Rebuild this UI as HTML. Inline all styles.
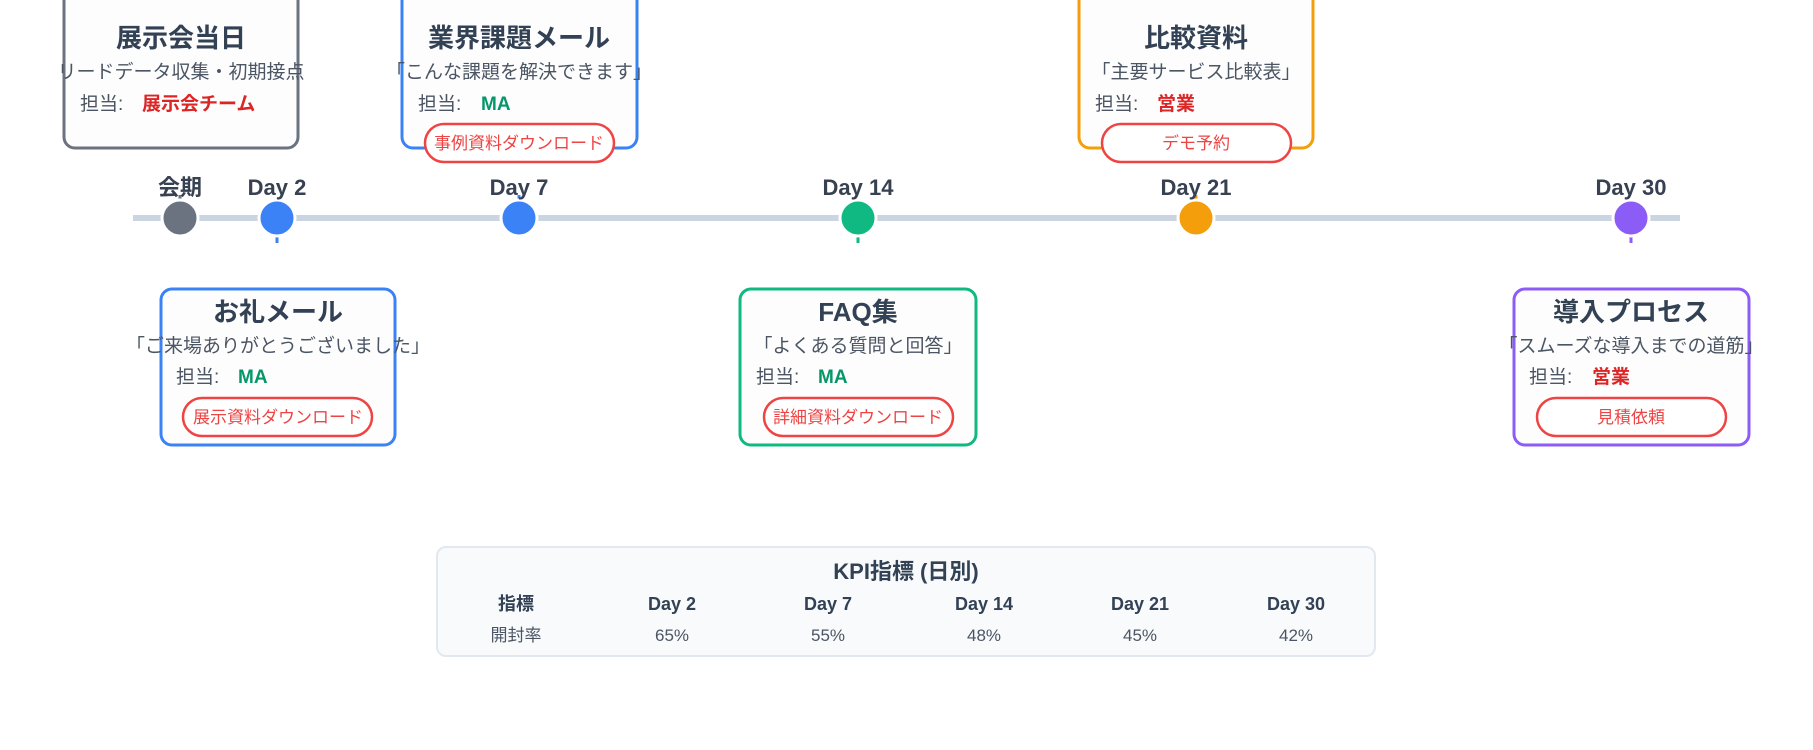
<!DOCTYPE html>
<html><head><meta charset="utf-8"><style>
html,body{margin:0;padding:0;background:#fff;width:1813px;height:750px;overflow:hidden}
text{font-family:"Liberation Sans","Noto Sans CJK JP",sans-serif}
</style></head><body>
<svg width="1813" height="750" viewBox="0 0 1813 750" xmlns="http://www.w3.org/2000/svg">
<line x1="133" y1="218" x2="1680" y2="218" stroke="#cbd5e1" stroke-width="6"/>
<g stroke-width="3">
<line x1="277" y1="218" x2="277" y2="243" stroke="#3b82f6"/>
<line x1="858" y1="218" x2="858" y2="243" stroke="#10b981"/>
<line x1="1631" y1="218" x2="1631" y2="243" stroke="#8b5cf6"/>
<line x1="180" y1="218" x2="180" y2="195" stroke="#6b7280"/>
<line x1="519" y1="218" x2="519" y2="195" stroke="#3b82f6"/>
<line x1="1196" y1="218" x2="1196" y2="195" stroke="#f59e0b"/>
</g>
<g stroke="#fff" stroke-width="3">
<circle cx="180" cy="218" r="18" fill="#6b7280"/>
<circle cx="277" cy="218" r="18" fill="#3b82f6"/>
<circle cx="519" cy="218" r="18" fill="#3b82f6"/>
<circle cx="858" cy="218" r="18" fill="#10b981"/>
<circle cx="1196" cy="218" r="18" fill="#f59e0b"/>
<circle cx="1631" cy="218" r="18" fill="#8b5cf6"/>
</g>
<g font-size="22" font-weight="bold" fill="#374151" text-anchor="middle">
<text x="180" y="195">会期</text><text x="277" y="195">Day 2</text><text x="519" y="195">Day 7</text>
<text x="858" y="195">Day 14</text><text x="1196" y="195">Day 21</text><text x="1631" y="195">Day 30</text>
</g>
<g fill="#fdfdfd" stroke-width="3">
<rect x="64" y="-20" width="234" height="168" rx="11" stroke="#6b7280"/>
<rect x="402" y="-20" width="235" height="168" rx="11" stroke="#3b82f6"/>
<rect x="1079" y="-20" width="234" height="168" rx="11" stroke="#f59e0b"/>
<rect x="161" y="289" width="234" height="156" rx="11" stroke="#3b82f6"/>
<rect x="740" y="289" width="236" height="156" rx="11" stroke="#10b981"/>
<rect x="1514" y="289" width="235" height="156" rx="11" stroke="#8b5cf6"/>
</g>
<g font-size="26" font-weight="bold" fill="#334155" text-anchor="middle">
<text x="181" y="47">展示会当日</text><text x="519" y="47">業界課題メール</text><text x="1196" y="47">比較資料</text>
<text x="278" y="321">お礼メール</text><text x="858" y="321">FAQ集</text><text x="1631" y="321">導入プロセス</text>
</g>
<g font-size="19" fill="#4b5563" text-anchor="middle">
<text x="181" y="78">リードデータ収集・初期接点</text><text x="519" y="78">「こんな課題を解決できます」</text><text x="1196" y="78">「主要サービス比較表」</text>
<text x="278" y="352">「ご来場ありがとうございました」</text><text x="858" y="352">「よくある質問と回答」</text><text x="1631" y="352">「スムーズな導入までの道筋」</text>
</g>
<g font-size="19" fill="#4b5563">
<text x="80" y="110">担当:</text><text x="418" y="110">担当:</text><text x="1095" y="110">担当:</text>
<text x="176" y="383">担当:</text><text x="756" y="383">担当:</text><text x="1529" y="383">担当:</text>
</g>
<g font-size="19" font-weight="bold">
<text x="142" y="110" fill="#dc2626">展示会チーム</text><text x="481" y="110" fill="#059669">MA</text><text x="1157" y="110" fill="#dc2626">営業</text>
<text x="238" y="383" fill="#059669">MA</text><text x="818" y="383" fill="#059669">MA</text><text x="1592" y="383" fill="#dc2626">営業</text>
</g>
<g fill="#fff" stroke="#ef4444" stroke-width="2.5">
<rect x="425" y="124" width="189" height="38" rx="19"/>
<rect x="1102" y="124" width="189" height="38" rx="19"/>
<rect x="183" y="398" width="189" height="38" rx="19"/>
<rect x="764" y="398" width="189" height="38" rx="19"/>
<rect x="1537" y="398" width="189" height="38" rx="19"/>
</g>
<g font-size="17" fill="#ef4444" text-anchor="middle">
<text x="519" y="149">事例資料ダウンロード</text><text x="1196" y="149">デモ予約</text>
<text x="278" y="423">展示資料ダウンロード</text><text x="858" y="423">詳細資料ダウンロード</text><text x="1631" y="423">見積依頼</text>
</g>
<rect x="437" y="547" width="938" height="109" rx="9" fill="#f8fafc" stroke="#e2e8f0" stroke-width="2"/>
<text x="906" y="579" font-size="22" font-weight="bold" fill="#334155" text-anchor="middle">KPI指標 (日別)</text>
<g font-size="18" font-weight="bold" fill="#334155" text-anchor="middle">
<text x="516" y="610">指標</text><text x="672" y="610">Day 2</text><text x="828" y="610">Day 7</text>
<text x="984" y="610">Day 14</text><text x="1140" y="610">Day 21</text><text x="1296" y="610">Day 30</text>
</g>
<g font-size="17" fill="#4b5563" text-anchor="middle">
<text x="516" y="641">開封率</text><text x="672" y="641">65%</text><text x="828" y="641">55%</text>
<text x="984" y="641">48%</text><text x="1140" y="641">45%</text><text x="1296" y="641">42%</text>
</g>
</svg>
</body></html>
